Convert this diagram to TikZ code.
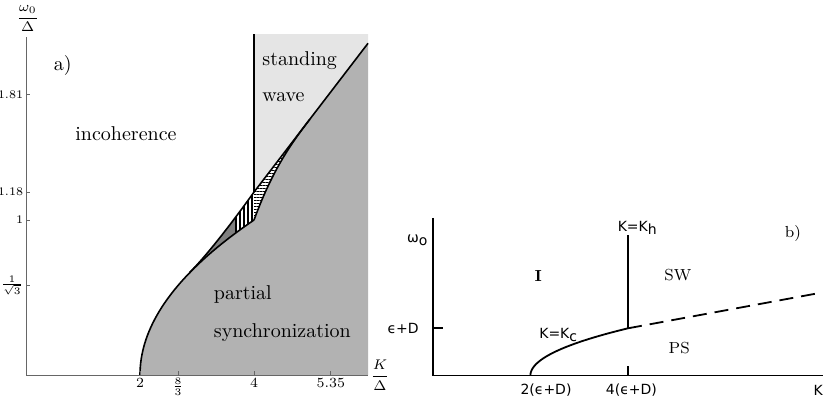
\documentclass[tikz,border=0pt]{standalone}
\usepackage{amsmath}
\usepackage{fontspec}
\newfontfamily\lettering{DejaVu Sans}
\usetikzlibrary{patterns.meta}
\colorlet{psgray}{gray!60}
\colorlet{swgray}{gray!20}
\colorlet{slivergray}{gray}
\newcommand\lsub[1]{\raisebox{-1.6pt}{#1}}
\begin{document}
\begin{tikzpicture}[
  axisa/.style={black!60,line width=0.5pt},
  bound/.style={line width=0.8pt,line join=round},
  baxis/.style={line width=0.9pt},
  letter/.style={font=\lettering\fontsize{7}{8}\selectfont,inner sep=0pt},
  tick/.style={font=\scriptsize,inner sep=2pt},
  ytick/.style={font=\fontsize{5.8}{7}\selectfont,inner sep=1.2pt,anchor=east},
  region/.style={font=\normalsize,anchor=base west,inner sep=0pt}]
\useasboundingbox (0,0) rectangle (415pt,199pt);
% a) phase diagram of the Ott-Antonsen reduction
\begin{scope}[shift={(13pt,11.5pt)},x=28.5pt,y=77.5pt]
\fill[swgray] (4,1.18) -- (4,2.2) -- (6,2.2) -- (6,2.14) -- cycle;
\fill[psgray] plot[domain=0:0.66,samples=30] ({2+2*\x*\x},\x) .. controls (3.2,0.785) and (3.6,0.975) .. (4,1.18) -- (6,2.14) -- (6,0) -- cycle;
\fill[slivergray] plot[domain=0.66:1,samples=20] ({2+2*\x*\x},\x) -- (4,1.18) .. controls (3.6,0.975) and (3.2,0.785) .. (2.871,0.66) -- cycle;
\begin{scope}
\clip (3.67,0) rectangle (4,2);
\fill[white] plot[domain=0.66:1,samples=20] ({2+2*\x*\x},\x) -- (4,1.18) .. controls (3.6,0.975) and (3.2,0.785) .. (2.871,0.66) -- cycle;
\fill[pattern={Lines[angle=90,distance=2pt,line width=0.8pt]}] plot[domain=0.66:1,samples=20] ({2+2*\x*\x},\x) -- (4,1.18) .. controls (3.6,0.975) and (3.2,0.785) .. (2.871,0.66) -- cycle;
\end{scope}
\fill[white] (4,1.18) -- (4.98,1.65) .. controls (4.6,1.47) and (4.3,1.3) .. (4,1) -- cycle;
\fill[pattern={Lines[angle=0,distance=1.5pt,line width=0.5pt]}] (4,1.18) -- (4.98,1.65) .. controls (4.6,1.47) and (4.3,1.3) .. (4,1) -- cycle;
% boundaries
\draw[bound] plot[domain=0:1,samples=40] ({2+2*\x*\x},\x);
\draw[bound] (2.871,0.66) .. controls (3.2,0.785) and (3.6,0.975) .. (4,1.18) -- (6,2.14);
\draw[bound] (4,1) .. controls (4.3,1.3) and (4.6,1.47) .. (4.98,1.65);
\draw[line width=0.6pt] (4,1.18) -- (4,2.2);
% axes
\draw[axisa] (0,2.18) -- (0,0) -- (6,0);
\foreach \xv/\xl [count=\i] in {2/2,2.667/$\frac{8}{3}$,4/4,5.35/5.35} {
  \draw[axisa] (\xv,0) -- ++(0,2pt);
  \node[tick,below,inner sep=1.5pt] (xt\i) at (\xv,0) {\xl};}
\foreach \yv/\yl [count=\i] in {0.577/$\frac{1}{\sqrt{3}}$,1/1,1.18/1.18,1.81/1.81} {
  \draw[axisa] (0,\yv) -- ++(2pt,0);
  \node[ytick] (yt\i) at (0,\yv) {\yl};}
\node[font=\scriptsize,inner sep=0pt] (wlab) at (0.03,2.30) {$\dfrac{\omega_0}{\Delta}$};
\node[font=\scriptsize,inner sep=0pt] (klab) at (6.21,0) {$\dfrac{K}{\Delta}$};
\node[region] (alab) at (0.48,1.963) {a)};
\node[region] (inc) at (0.86,1.51) {incoherence};
\node[region] (sw1) at (4.14,2.0) {standing};
\node[region] (sw2) at (4.14,1.763) {wave};
\node[region] (ps1) at (3.29,0.49) {partial};
\node[region] (ps2) at (3.29,0.243) {synchronization};
\end{scope}
% b) phase diagram of the coupled oscillator model
\begin{scope}[shift={(216.4pt,11.25pt)},x=24.4pt,y=23.6pt]
\coordinate (org) at (0,0);
\coordinate (top) at (0,3.34);
\coordinate (right) at (7.99,0);
\coordinate (kc) at (2,0);
\coordinate (kh) at (4,1);
\coordinate (khtop) at (4,2.98);
\coordinate (dashend) at (7.88,1.74);
\draw[baxis] (top) -- (org) -- (right);
\draw[baxis] (0,1) -- ++(5pt,0);
\draw[baxis] (4,0) -- ++(0,5pt);
\draw[baxis] plot[domain=0:1,samples=40] ({2+2*\x*\x},\x);
\draw[baxis] (kh) -- (khtop);
\draw[baxis,dash pattern=on 7pt off 4pt] (kh) -- (dashend);
\node[letter] (wb) at (-0.32,2.87) {ω\lsub{o}};
\node[letter,anchor=east] (ed) at (-0.28,1) {ϵ+D};
\node[letter] (x2) at (2.32,-0.31) {2(ϵ+D)};
\node[letter] (x4) at (4.07,-0.31) {4(ϵ+D)};
\node[letter] (kb) at (7.9,-0.31) {K};
\node[letter] (khl) at (4.19,3.12) {K=K\lsub{h}};
\node[letter] (kcl) at (2.57,0.86) {K=K\lsub{c}};
\node[font=\footnotesize\bfseries] (ilab) at (2.16,2.11) {I};
\node[font=\footnotesize] (swlab) at (5.02,2.13) {SW};
\node[font=\footnotesize] (pslab) at (5.05,0.59) {PS};
\node[font=\footnotesize] (blab) at (7.38,3.0) {b)};
\end{scope}
\end{tikzpicture}
\end{document}
